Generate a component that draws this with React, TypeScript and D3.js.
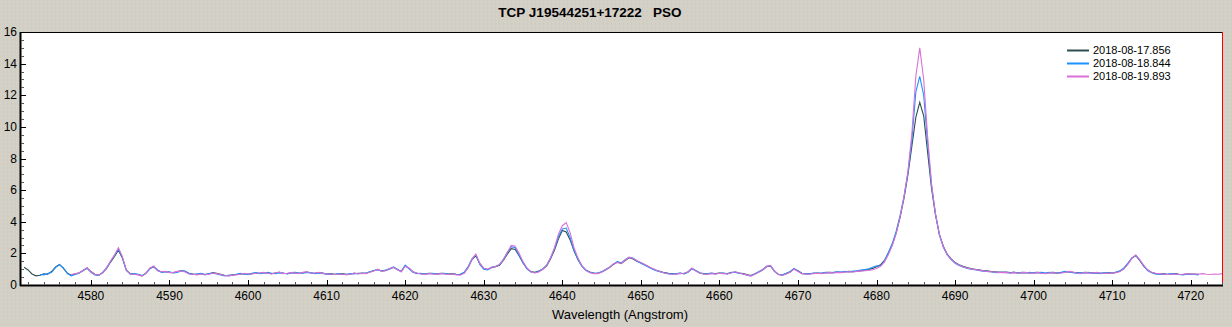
import React from 'react';
import * as d3 from 'd3';

// spectra sampled every 0.5 A, each with its own first wavelength
const STEP = 0.5;
const seriesNames = ['2018-08-17.856', '2018-08-18.844', '2018-08-19.893'];
const seriesColors = ['#2f4f4f', '#1e90ff', '#da70d6'];
const seriesStart = [4571.5, 4573.5, 4577.5];

const flux1 = [
  1.12, 0.95, 0.70, 0.58, 0.62, 0.70, 0.68, 0.85, 1.15, 1.30,
  1.05, 0.75, 0.62, 0.70, 0.78, 0.90, 1.08, 0.85, 0.68, 0.62,
  0.78, 1.05, 1.45, 1.80, 2.20, 1.70, 0.95, 0.72, 0.70, 0.66,
  0.58, 0.75, 1.05, 1.15, 0.92, 0.82, 0.85, 0.80, 0.78, 0.84,
  0.92, 0.85, 0.74, 0.70, 0.68, 0.72, 0.66, 0.70, 0.78, 0.74,
  0.68, 0.62, 0.60, 0.64, 0.66, 0.70, 0.72, 0.68, 0.72, 0.76,
  0.74, 0.78, 0.76, 0.72, 0.76, 0.80, 0.74, 0.72, 0.76, 0.78,
  0.74, 0.78, 0.82, 0.76, 0.74, 0.78, 0.76, 0.70, 0.72, 0.68,
  0.70, 0.72, 0.68, 0.70, 0.74, 0.72, 0.76, 0.74, 0.82, 0.90,
  0.98, 0.88, 0.92, 1.02, 1.12, 0.98, 0.86, 1.22, 1.05, 0.82,
  0.74, 0.72, 0.70, 0.74, 0.72, 0.70, 0.74, 0.72, 0.70, 0.72,
  0.68, 0.66, 0.76, 1.10, 1.60, 1.85, 1.35, 1.05, 0.98, 1.10,
  1.15, 1.25, 1.55, 1.95, 2.30, 2.25, 1.85, 1.40, 1.05, 0.85,
  0.80, 0.88, 1.00, 1.20, 1.65, 2.20, 2.90, 3.45, 3.35, 2.85,
  2.15, 1.60, 1.20, 0.95, 0.82, 0.76, 0.74, 0.82, 0.95, 1.10,
  1.30, 1.45, 1.35, 1.55, 1.72, 1.65, 1.50, 1.40, 1.28, 1.15,
  1.02, 0.92, 0.85, 0.78, 0.74, 0.72, 0.70, 0.74, 0.72, 0.82,
  1.05, 0.90, 0.76, 0.72, 0.70, 0.74, 0.72, 0.76, 0.74, 0.72,
  0.78, 0.82, 0.76, 0.72, 0.66, 0.60, 0.70, 0.82, 0.95, 1.15,
  1.20, 0.88, 0.68, 0.62, 0.72, 0.82, 1.02, 0.90, 0.74, 0.70,
  0.72, 0.74, 0.76, 0.74, 0.78, 0.80, 0.78, 0.82, 0.80, 0.84,
  0.86, 0.84, 0.88, 0.90, 0.94, 0.98, 1.05, 1.15, 1.28, 1.55,
  2.00, 2.55, 3.30, 4.30, 5.50, 7.00, 8.80, 10.60, 11.55, 10.70,
  8.40, 6.10, 4.45, 3.20, 2.45, 1.95, 1.65, 1.42, 1.28, 1.18,
  1.10, 1.04, 1.00, 0.96, 0.92, 0.90, 0.86, 0.84, 0.82, 0.80,
  0.82, 0.78, 0.80, 0.76, 0.80, 0.78, 0.76, 0.78, 0.80, 0.76,
  0.74, 0.78, 0.80, 0.76, 0.78, 0.82, 0.84, 0.80, 0.78, 0.76,
  0.80, 0.78, 0.76, 0.78, 0.74, 0.76, 0.78, 0.76, 0.80, 0.88,
  1.05, 1.35, 1.70, 1.85, 1.55, 1.20, 0.95, 0.80, 0.72, 0.70,
  0.72, 0.68, 0.70, 0.72, 0.68, 0.66, 0.70, 0.68, 0.70, 0.66,
];

const flux2 = [
  0.66, 0.64, 0.72, 0.80, 1.10, 1.28,
  1.08, 0.72, 0.58, 0.66, 0.74, 0.94, 1.05, 0.80, 0.64, 0.60,
  0.80, 1.10, 1.50, 1.88, 2.28, 1.75, 0.92, 0.70, 0.72, 0.68,
  0.60, 0.72, 1.02, 1.18, 0.95, 0.80, 0.82, 0.84, 0.76, 0.80,
  0.90, 0.88, 0.72, 0.66, 0.70, 0.74, 0.64, 0.72, 0.74, 0.70,
  0.64, 0.58, 0.62, 0.60, 0.68, 0.74, 0.70, 0.66, 0.74, 0.78,
  0.72, 0.76, 0.80, 0.74, 0.72, 0.78, 0.76, 0.70, 0.78, 0.80,
  0.76, 0.74, 0.80, 0.78, 0.72, 0.76, 0.74, 0.68, 0.70, 0.66,
  0.72, 0.68, 0.66, 0.72, 0.70, 0.74, 0.72, 0.76, 0.84, 0.92,
  0.96, 0.90, 0.94, 1.00, 1.15, 1.00, 0.84, 1.25, 1.02, 0.80,
  0.72, 0.74, 0.68, 0.72, 0.74, 0.68, 0.72, 0.74, 0.68, 0.70,
  0.66, 0.68, 0.80, 1.15, 1.65, 1.92, 1.30, 1.00, 0.96, 1.12,
  1.18, 1.28, 1.62, 2.05, 2.42, 2.35, 1.90, 1.42, 1.02, 0.82,
  0.78, 0.86, 1.02, 1.25, 1.72, 2.30, 3.05, 3.55, 3.60, 3.00,
  2.20, 1.62, 1.18, 0.92, 0.80, 0.74, 0.76, 0.84, 0.98, 1.12,
  1.32, 1.48, 1.40, 1.60, 1.75, 1.70, 1.52, 1.38, 1.25, 1.12,
  1.00, 0.90, 0.82, 0.76, 0.72, 0.70, 0.72, 0.76, 0.70, 0.80,
  1.02, 0.92, 0.78, 0.70, 0.72, 0.76, 0.70, 0.74, 0.76, 0.70,
  0.80, 0.80, 0.74, 0.70, 0.62, 0.58, 0.72, 0.84, 0.98, 1.18,
  1.22, 0.86, 0.66, 0.64, 0.74, 0.86, 1.05, 0.88, 0.72, 0.72,
  0.70, 0.76, 0.74, 0.76, 0.80, 0.78, 0.80, 0.84, 0.82, 0.86,
  0.84, 0.88, 0.90, 0.94, 0.98, 1.02, 1.12, 1.22, 1.20, 1.52,
  2.05, 2.62, 3.40, 4.40, 5.60, 7.10, 9.20, 12.20, 13.20, 12.00,
  9.00, 6.30, 4.50, 3.15, 2.40, 1.90, 1.60, 1.38, 1.24, 1.14,
  1.06, 1.00, 0.96, 0.92, 0.88, 0.86, 0.84, 0.80, 0.78, 0.82,
  0.78, 0.76, 0.82, 0.74, 0.78, 0.76, 0.80, 0.76, 0.78, 0.80,
  0.76, 0.80, 0.76, 0.74, 0.80, 0.86, 0.82, 0.78, 0.74, 0.78,
  0.76, 0.80, 0.74, 0.76, 0.72, 0.78, 0.76, 0.74, 0.82, 0.90,
  1.08, 1.38, 1.72, 1.88, 1.58, 1.22, 0.92, 0.78, 0.70, 0.68,
  0.70, 0.66, 0.72, 0.70, 0.66, 0.64, 0.68, 0.70, 0.66, 0.64,
];

const flux3 = [
  0.66, 0.72, 0.76, 0.92, 1.10, 0.84, 0.66, 0.64,
  0.76, 1.08, 1.52, 1.90, 2.35, 1.80, 0.96, 0.70, 0.68, 0.64,
  0.56, 0.74, 1.08, 1.20, 0.90, 0.84, 0.86, 0.78, 0.80, 0.86,
  0.88, 0.82, 0.70, 0.68, 0.64, 0.70, 0.68, 0.66, 0.76, 0.72,
  0.66, 0.60, 0.56, 0.62, 0.64, 0.68, 0.74, 0.70, 0.70, 0.74,
  0.76, 0.80, 0.74, 0.70, 0.78, 0.82, 0.72, 0.74, 0.78, 0.76,
  0.72, 0.80, 0.84, 0.74, 0.76, 0.80, 0.72, 0.70, 0.70, 0.66,
  0.68, 0.70, 0.64, 0.68, 0.76, 0.70, 0.74, 0.72, 0.80, 0.88,
  1.00, 0.86, 0.90, 1.05, 1.10, 0.96, 0.84, 1.18, 1.08, 0.84,
  0.76, 0.70, 0.66, 0.72, 0.70, 0.66, 0.72, 0.70, 0.66, 0.70,
  0.64, 0.62, 0.74, 1.08, 1.62, 1.95, 1.38, 1.06, 1.00, 1.12,
  1.16, 1.30, 1.60, 2.05, 2.50, 2.45, 2.00, 1.48, 1.08, 0.84,
  0.76, 0.82, 0.98, 1.20, 1.70, 2.35, 3.20, 3.75, 3.95, 3.30,
  2.35, 1.70, 1.22, 0.94, 0.78, 0.72, 0.72, 0.80, 0.96, 1.12,
  1.34, 1.42, 1.36, 1.58, 1.76, 1.68, 1.55, 1.42, 1.30, 1.16,
  1.04, 0.94, 0.84, 0.76, 0.70, 0.68, 0.70, 0.72, 0.74, 0.84,
  1.08, 0.88, 0.74, 0.70, 0.68, 0.72, 0.70, 0.74, 0.72, 0.70,
  0.76, 0.84, 0.78, 0.70, 0.64, 0.56, 0.68, 0.80, 0.96, 1.18,
  1.24, 0.90, 0.66, 0.60, 0.70, 0.80, 1.00, 0.86, 0.72, 0.68,
  0.70, 0.72, 0.74, 0.72, 0.76, 0.78, 0.76, 0.80, 0.78, 0.82,
  0.84, 0.82, 0.86, 0.88, 0.90, 0.92, 0.96, 1.04, 1.18, 1.45,
  1.92, 2.50, 3.25, 4.30, 5.60, 7.20, 9.60, 13.20, 15.00, 13.00,
  9.40, 6.40, 4.50, 3.20, 2.40, 1.92, 1.62, 1.40, 1.26, 1.16,
  1.08, 1.02, 0.98, 0.94, 0.90, 0.86, 0.84, 0.82, 0.80, 0.78,
  0.80, 0.76, 0.78, 0.74, 0.78, 0.80, 0.74, 0.76, 0.78, 0.74,
  0.72, 0.76, 0.78, 0.74, 0.76, 0.80, 0.86, 0.82, 0.76, 0.74,
  0.78, 0.76, 0.74, 0.80, 0.76, 0.74, 0.76, 0.74, 0.78, 0.86,
  1.02, 1.32, 1.68, 1.90, 1.60, 1.24, 0.96, 0.80, 0.74, 0.72,
  0.70, 0.66, 0.68, 0.70, 0.66, 0.68, 0.72, 0.70, 0.68, 0.70,
  0.72, 0.68, 0.66, 0.70, 0.68, 0.72,
];

const fluxes = [flux1, flux2, flux3];

const xMajor = [4580, 4590, 4600, 4610, 4620, 4630, 4640, 4650, 4660, 4670, 4680, 4690, 4700, 4710, 4720];
const yMajor = [0, 2, 4, 6, 8, 10, 12, 14, 16];

const W = 1232;
const H = 327;
const margin = { top: 32, right: 9, bottom: 42, left: 21 };
const font = 'Arial, "Liberation Sans", sans-serif';

export default function App() {
  const innerW = W - margin.left - margin.right;
  const innerH = H - margin.top - margin.bottom;

  const x = d3.scaleLinear().domain([4571.1, 4724.1]).range([0, innerW]);
  const y = d3.scaleLinear().domain([0, 16]).range([innerH, 0]);

  const line = d3.line<[number, number]>()
    .x(d => x(d[0]))
    .y(d => y(d[1]));

  const xMinor = d3.range(4572, 4725, 2).filter(v => v % 10 !== 0);
  const yMinor = d3.range(0.5, 16, 0.5).filter(v => v % 2 !== 0);

  return (
    <svg width={W} height={H} style={{ position: 'absolute', left: 0, top: 0, display: 'block' }}>
      <defs>
        <pattern id="dither" width="4" height="4" patternUnits="userSpaceOnUse">
          <rect width="4" height="4" fill="#d3d0c6" />
          <rect x="0" y="0" width="1" height="1" fill="#dcc8cc" />
          <rect x="2" y="1" width="1" height="1" fill="#c8d2c4" />
          <rect x="1" y="2" width="1" height="1" fill="#d8d4c0" />
          <rect x="3" y="3" width="1" height="1" fill="#cac6cc" />
        </pattern>
        <clipPath id="plotClip">
          <rect width={innerW} height={innerH} />
        </clipPath>
      </defs>
      <rect width={W} height={H} fill="url(#dither)" />

      <text x={590} y={17} textAnchor="middle" fontFamily={font} fontSize={13.5} fontWeight="bold"
        style={{ whiteSpace: 'pre' }}>
        {'TCP J19544251+17222   PSO'}
      </text>

      <g transform={`translate(${margin.left},${margin.top})`}>
        <rect width={innerW} height={innerH} fill="#ffffff" />

        <g clipPath="url(#plotClip)">
          {fluxes.map((f, s) => (
            <path
              key={s}
              d={line(f.map((v, i) => [seriesStart[s] + i * STEP, v] as [number, number])) || ''}
              fill="none"
              stroke={seriesColors[s]}
              strokeWidth={1.1}
            />
          ))}
        </g>

        {/* frame: black top/left/bottom, red right */}
        <line x1={0} x2={innerW} y1={0.5} y2={0.5} stroke="#000" />
        <line x1={innerW - 0.5} x2={innerW - 0.5} y1={0} y2={innerH} stroke="#ff0000" />
        <line x1={-0.5} x2={-0.5} y1={0} y2={innerH + 1} stroke="#000" strokeWidth={2} />
        <line x1={-1} x2={innerW} y1={innerH + 0.5} y2={innerH + 0.5} stroke="#000" strokeWidth={2} />

        {xMinor.map(v => (
          <line key={`xm${v}`} x1={Math.round(x(v)) + 0.5} x2={Math.round(x(v)) + 0.5}
            y1={innerH} y2={innerH - 3} stroke="#555" />
        ))}
        {xMajor.map(v => (
          <g key={`xt${v}`}>
            <line x1={Math.round(x(v)) + 0.5} x2={Math.round(x(v)) + 0.5}
              y1={innerH} y2={innerH - 5} stroke="#000" />
            <text x={x(v)} y={innerH + 15} textAnchor="middle" fontFamily={font} fontSize={12} fill="#000">
              {v}
            </text>
          </g>
        ))}

        {yMinor.map(v => (
          <line key={`ym${v}`} x1={0} x2={3} y1={Math.round(y(v)) + 0.5} y2={Math.round(y(v)) + 0.5} stroke="#555" />
        ))}
        {yMajor.map(v => (
          <g key={`yt${v}`}>
            <line x1={0} x2={5} y1={Math.round(y(v)) + 0.5} y2={Math.round(y(v)) + 0.5} stroke="#000" />
            <text x={-4} y={y(v) + 4} textAnchor="end" fontFamily={font} fontSize={12} fill="#000">
              {v}
            </text>
          </g>
        ))}

        <text x={599} y={innerH + 34} textAnchor="middle" fontFamily={font} fontSize={13} fill="#000">
          Wavelength (Angstrom)
        </text>

        <g transform="translate(1046,18)">
          {seriesNames.map((name, i) => (
            <g key={name} transform={`translate(0,${i * 13})`}>
              <line x1={0} x2={22} y1={0.5} y2={0.5} stroke={seriesColors[i]} strokeWidth={2} />
              <text x={26} y={4} fontFamily={font} fontSize={11} fill="#000">{name}</text>
            </g>
          ))}
        </g>
      </g>
    </svg>
  );
}
